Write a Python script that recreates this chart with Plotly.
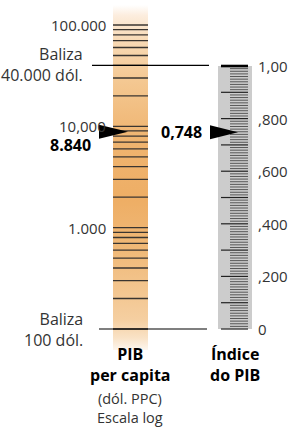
import math
import plotly.graph_objects as go

# ---------------- data ----------------
gdp_decades = [100, 1000, 10000]
gdp_top_tick = 100000
gdp_label_vals = [100000, 10000, 1000]
gdp_label_texts = ["100.000", "10,000", "1.000"]
gdp_value = 8840
gdp_value_text = "8.840"
goalpost_vals = [40000, 100]
goalpost_texts = ["Baliza<br>40.000 dól.", "Baliza<br>100 dól."]

index_value = 0.748
index_value_text = "0,748"
index_label_vals = [1.0, 0.8, 0.6, 0.4, 0.2, 0.0]
index_label_texts = ["1,00", ",800", ",600", ",400", ",200", "0"]
index_minor_step = 0.01

left_title_bold = "<b>PIB<br>per capita</b>"
left_title_note = "(dól. PPC)<br>Escala log"
right_title_bold = "<b>Índice<br>do PIB</b>"

# ---------------- layout constants ----------------
W, H = 300, 427
LOG_RANGE = [1.0329, 5.2467]
LIN_RANGE = [-0.3726, 1.251]
FONT = "Open Sans"
TXT = "#333333"

fig = go.Figure()

def px_to_log(p):
    return LOG_RANGE[1] - (LOG_RANGE[1] - LOG_RANGE[0]) * p / H

# left gradient bar
bar_top, bar_bot = 10 ** px_to_log(5), 10 ** px_to_log(350)
fig.add_trace(go.Scatter(
    x=[113, 148, 148, 113, 113], y=[bar_bot, bar_bot, bar_top, bar_top, bar_bot],
    yaxis="y", mode="none", fill="toself",
    fillgradient=dict(type="vertical", colorscale=[
        [0.0, "#fdf6ee"], [0.035, "#f9e2c6"], [0.087, "#f5cfa1"], [0.29, "#f0b978"],
        [0.435, "#eeae65"], [0.61, "#efb470"], [0.78, "#f4c892"], [0.9, "#f8dab6"],
        [0.97, "#fcedde"], [1.0, "#ffffff"]]),
    hoverinfo="skip", showlegend=False))

# left ticks
tx, ty = [], []
vals = [d * k for d in gdp_decades for k in range(1, 10)] + [gdp_top_tick]
for v in vals:
    tx += [113, 148, None]
    ty += [v, v, None]
fig.add_trace(go.Scatter(x=tx, y=ty, yaxis="y", mode="lines",
                         line=dict(color="#3a3530", width=1.3),
                         hoverinfo="skip", showlegend=False))

# goalpost lines
gx = [92, 209, None, 99, 207]
gy = [goalpost_vals[0], goalpost_vals[0], None, goalpost_vals[1], goalpost_vals[1]]
fig.add_trace(go.Scatter(x=gx, y=gy, yaxis="y", mode="lines",
                         line=dict(color="black", width=1.2),
                         hoverinfo="skip", showlegend=False))

# right gray bar
fig.add_trace(go.Scatter(x=[218, 252, 252, 218, 218], y=[0, 0, 1, 1, 0], yaxis="y2",
                         mode="none", fill="toself", fillcolor="#cccccc",
                         hoverinfo="skip", showlegend=False))

# right ticks
mx, my, Mx, My = [], [], [], []
n = int(round(1 / index_minor_step))
for i in range(n + 1):
    v = i * index_minor_step
    if i % 10 == 0:
        Mx += [221, 248, None]; My += [v, v, None]
    else:
        mx += [230, 248, None]; my += [v, v, None]
fig.add_trace(go.Scatter(x=mx, y=my, yaxis="y2", mode="lines",
                         line=dict(color="#4a4a4a", width=0.9),
                         hoverinfo="skip", showlegend=False))
fig.add_trace(go.Scatter(x=Mx, y=My, yaxis="y2", mode="lines",
                         line=dict(color="#222222", width=1.2),
                         hoverinfo="skip", showlegend=False))
fig.add_trace(go.Scatter(x=[221, 248], y=[1.0, 1.0], yaxis="y2", mode="lines",
                         line=dict(color="black", width=2.6),
                         hoverinfo="skip", showlegend=False))

# arrows
hl = 7 * (LOG_RANGE[1] - LOG_RANGE[0]) / H
lv = math.log10(gdp_value)
fig.add_trace(go.Scatter(x=[99, 128, 99, 99], y=[10 ** (lv + hl), gdp_value, 10 ** (lv - hl), 10 ** (lv + hl)],
                         yaxis="y", mode="none", fill="toself", fillcolor="black",
                         hoverinfo="skip", showlegend=False))
hr = 7 * (LIN_RANGE[1] - LIN_RANGE[0]) / H
fig.add_trace(go.Scatter(x=[210, 238, 210, 210], y=[index_value + hr, index_value, index_value - hr, index_value + hr],
                         yaxis="y2", mode="none", fill="toself", fillcolor="black",
                         hoverinfo="skip", showlegend=False))

ann = []
for v, t in zip(gdp_label_vals, gdp_label_texts):
    ann.append(dict(x=108, y=math.log10(v), xref="x", yref="y", text=t, xanchor="right",
                    yanchor="middle", showarrow=False, font=dict(size=15, color=TXT, family=FONT)))
ann.append(dict(x=93, y=math.log10(gdp_value), xref="x", yref="y", text="<b>" + gdp_value_text + "</b>",
                xanchor="right", yanchor="middle", yshift=-13, showarrow=False,
                font=dict(size=16, color="black", family=FONT)))
for v, t, ys in zip(goalpost_vals, goalpost_texts, [1, 0]):
    ann.append(dict(x=85, y=math.log10(v), xref="x", yref="y", text=t, xanchor="right", align="right",
                    yanchor="middle", yshift=ys, showarrow=False, font=dict(size=16, color=TXT, family=FONT)))
for v, t in zip(index_label_vals, index_label_texts):
    ann.append(dict(x=256, y=v, xref="x", yref="y2", text=t, xanchor="left",
                    yanchor="middle", showarrow=False, font=dict(size=15, color=TXT, family=FONT)))
ann.append(dict(x=204, y=index_value, xref="x", yref="y2", text="<b>" + index_value_text + "</b>",
                xanchor="right", yanchor="middle", showarrow=False,
                font=dict(size=16, color="black", family=FONT)))
ann.append(dict(x=130, y=1 - 364.5 / H, xref="x", yref="paper", text=left_title_bold, xanchor="center",
                yanchor="middle", showarrow=False, font=dict(size=16, color="black", family=FONT)))
ann.append(dict(x=130, y=1 - 407.5 / H, xref="x", yref="paper", text=left_title_note, xanchor="center",
                yanchor="middle", showarrow=False, font=dict(size=14.5, color=TXT, family=FONT)))
ann.append(dict(x=235, y=1 - 364.5 / H, xref="x", yref="paper", text=right_title_bold, xanchor="center",
                yanchor="middle", showarrow=False, font=dict(size=16, color="black", family=FONT)))

fig.update_layout(
    width=W, height=H, margin=dict(l=0, r=0, t=0, b=0),
    paper_bgcolor="white", plot_bgcolor="white", showlegend=False,
    xaxis=dict(range=[0, W], visible=False, fixedrange=True),
    yaxis=dict(type="log", range=LOG_RANGE, visible=False, fixedrange=True),
    yaxis2=dict(range=LIN_RANGE, overlaying="y", visible=False, fixedrange=True),
    annotations=ann, font=dict(family=FONT),
)
fig.write_html("out.html", config={"displayModeBar": False, "staticPlot": True},
               post_script="document.body.style.margin='0';document.body.style.overflow='hidden';")
